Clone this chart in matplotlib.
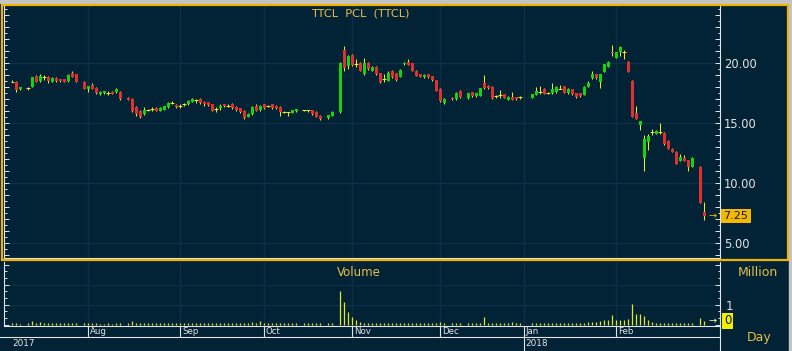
import matplotlib
matplotlib.use("Agg")
import matplotlib.pyplot as plt
import matplotlib.transforms as mtransforms
import numpy as np
import pandas as pd
from matplotlib.patches import Rectangle
from matplotlib.ticker import MultipleLocator, FuncFormatter

# weekday slot (0 = 2017-07-03) of each traded session
day = [2, 3, 4, 6, 7, 8, 9, 10, 11, 12, 13, 14, 15, 16, 17, 18, 20,
       21, 22, 23, 24, 25, 26, 27, 28, 29, 31, 32, 33, 34, 35, 36, 37, 38, 39, 40, 41, 42, 43,
       44, 45, 46, 47, 48, 49, 50, 51, 52, 53, 54, 55, 56, 57, 58, 59, 60, 61, 62, 63, 64,
       65, 66, 67, 68, 69, 70, 71, 72, 73, 75, 76, 77, 78, 79, 81, 82, 84, 85, 86,
       87, 88, 89, 90, 91, 92, 93, 94, 95, 96, 97, 98, 99, 100, 101, 102, 103, 104, 105, 106, 107, 108,
       109, 110, 112, 113, 114, 116, 117, 118, 119, 120, 121, 122, 123, 124, 125, 126, 127, 128, 129,
       132, 133, 134, 135, 136, 137, 138, 139, 140, 141, 142, 143, 144, 145, 146, 147, 148, 149, 150, 151, 152,
       153, 154, 155, 156, 157, 158, 159, 160, 161, 162, 163, 164, 165, 166, 167, 168, 169, 170, 171, 172,
       174, 175]

opens = [18.44, 18.44, 17.80, 17.95, 18.03, 18.92, 18.50, 18.80, 18.86, 18.44, 18.72, 18.67, 18.67, 18.50, 19.14, 19.08, 18.44,
         17.83, 18.17, 17.94, 17.40, 17.47, 17.53, 17.61, 17.55, 17.60, 17.11, 17.00, 16.36, 16.00, 15.75, 16.08, 16.14, 16.22, 16.03, 16.08, 16.30, 16.64, 16.50,
         16.44, 16.58, 16.56, 16.78, 16.92, 17.00, 16.78, 16.72, 16.56, 16.17, 16.22, 16.56, 16.45, 16.58, 16.36, 16.22, 16.00, 15.53, 15.75, 16.44, 16.08,
         16.56, 16.42, 16.56, 16.44, 16.36, 15.89, 15.89, 15.86, 16.00, 16.08, 16.08, 16.08, 15.94, 15.61, 15.39, 15.61, 15.89, 21.08, 19.78,
         20.67, 19.89, 20.03, 19.08, 20.03, 19.36, 19.69, 19.14, 18.64, 18.53, 19.36, 19.14, 18.86, 19.90, 20.11, 19.97, 19.36, 19.08, 18.80, 19.08, 18.92, 18.58,
         17.85, 16.64, 17.05, 16.97, 17.70, 17.06, 17.56, 17.25, 17.28, 18.31, 18.08, 18.03, 17.25, 17.33, 17.39, 16.92, 17.19, 17.14, 17.14,
         17.11, 17.33, 17.61, 17.83, 17.53, 17.47, 17.56, 17.83, 18.08, 17.47, 17.81, 17.47, 17.47, 17.33, 18.03, 18.72, 19.06, 18.44, 19.28, 19.69, 20.94,
         20.44, 20.89, 20.94, 20.11, 18.50, 15.80, 14.83, 12.06, 13.44, 14.28, 14.08, 14.22, 14.19, 13.50, 12.86, 12.61, 11.83, 12.11, 11.89, 11.36,
         11.36, 7.60]

highs = [18.60, 18.50, 18.00, 18.00, 18.85, 19.00, 19.08, 19.00, 18.90, 18.80, 18.80, 18.70, 18.70, 19.05, 19.33, 19.10, 18.50,
         18.10, 18.30, 18.00, 17.65, 17.70, 17.67, 17.65, 17.90, 17.65, 17.20, 17.05, 16.40, 16.05, 16.36, 16.17, 16.36, 16.30, 16.30, 16.45, 16.72, 16.83, 16.55,
         16.58, 16.67, 16.90, 17.10, 17.00, 17.05, 16.86, 16.78, 16.60, 16.36, 16.56, 16.60, 16.55, 16.64, 16.40, 16.25, 16.05, 15.80, 16.42, 16.56, 16.50,
         16.60, 16.50, 16.60, 16.50, 16.40, 16.00, 15.95, 16.10, 16.20, 16.11, 16.11, 16.10, 16.00, 15.65, 15.70, 16.00, 20.10, 21.42, 20.70,
         20.72, 20.30, 20.08, 20.40, 20.08, 19.75, 19.75, 19.20, 19.08, 19.33, 19.40, 19.20, 19.50, 20.05, 20.30, 20.00, 19.40, 19.12, 19.05, 19.10, 18.95, 18.60,
         17.90, 17.05, 17.20, 17.60, 17.75, 17.50, 17.60, 17.50, 17.95, 19.00, 18.15, 18.06, 17.30, 17.75, 17.45, 17.25, 17.60, 17.20, 17.25,
         17.42, 18.00, 18.08, 17.90, 17.60, 18.30, 18.06, 18.17, 18.10, 17.88, 17.85, 17.50, 17.50, 18.10, 18.50, 19.33, 19.10, 19.10, 19.95, 20.15, 21.50,
         20.95, 21.40, 21.08, 20.15, 18.55, 16.44, 15.20, 14.00, 14.06, 14.50, 14.38, 14.97, 14.22, 13.55, 12.90, 12.65, 12.40, 12.33, 11.92, 12.20,
         11.40, 8.44]

lows = [18.40, 17.60, 17.75, 17.75, 18.00, 18.40, 18.45, 18.60, 18.30, 18.40, 18.40, 18.45, 18.40, 18.45, 18.80, 18.40, 17.80,
        17.60, 17.80, 17.40, 17.35, 17.45, 17.33, 17.40, 17.50, 16.95, 16.90, 15.95, 15.60, 15.45, 15.70, 16.00, 16.00, 16.00, 16.00, 16.05, 16.25, 16.55, 16.25,
        16.28, 16.45, 16.50, 16.75, 16.70, 16.60, 16.45, 16.45, 16.00, 15.94, 16.10, 16.35, 16.35, 16.20, 16.00, 15.85, 15.35, 15.50, 15.70, 16.00, 16.00,
        16.20, 16.30, 16.20, 16.20, 15.60, 15.80, 15.60, 15.80, 15.95, 16.00, 15.90, 15.70, 15.50, 15.28, 15.36, 15.58, 15.85, 19.33, 19.50,
        19.75, 19.70, 19.30, 19.00, 19.40, 19.30, 19.00, 18.30, 18.45, 18.50, 18.75, 18.50, 18.80, 19.85, 19.80, 19.30, 18.88, 18.80, 18.75, 18.75, 18.50, 17.65,
        16.75, 16.55, 16.90, 16.90, 17.05, 17.00, 17.20, 17.20, 17.25, 17.85, 17.85, 17.00, 17.10, 17.05, 17.05, 16.90, 16.88, 16.92, 17.00,
        17.05, 17.30, 17.39, 17.38, 17.45, 17.42, 17.50, 17.80, 17.50, 17.42, 17.35, 17.10, 17.20, 17.30, 18.00, 18.70, 18.68, 17.94, 19.25, 19.65, 20.60,
        20.40, 20.60, 20.33, 19.25, 15.50, 15.30, 14.40, 11.00, 12.75, 14.00, 14.05, 14.05, 13.20, 12.80, 12.55, 11.58, 11.80, 11.80, 11.03, 11.33,
        8.33, 6.92]

closes = [18.44, 17.75, 18.00, 17.95, 18.80, 18.44, 18.92, 18.80, 18.50, 18.72, 18.53, 18.50, 18.44, 19.00, 18.86, 18.44, 17.83,
          18.08, 17.83, 17.47, 17.60, 17.67, 17.53, 17.42, 17.80, 17.00, 16.92, 16.00, 15.72, 15.53, 16.08, 16.08, 16.14, 16.03, 16.28, 16.42, 16.64, 16.64, 16.30,
          16.44, 16.58, 16.86, 16.97, 16.92, 16.64, 16.56, 16.50, 16.03, 16.17, 16.44, 16.39, 16.45, 16.22, 16.08, 15.90, 15.39, 15.75, 16.36, 16.03, 16.44,
          16.22, 16.42, 16.22, 16.22, 15.94, 15.89, 15.89, 16.08, 16.17, 16.08, 16.08, 15.75, 15.53, 15.33, 15.67, 15.94, 19.97, 19.56, 20.61,
          19.83, 19.89, 19.36, 20.03, 19.47, 19.69, 19.08, 18.39, 18.64, 19.19, 18.80, 18.58, 19.42, 19.97, 19.83, 19.36, 18.92, 18.86, 19.00, 18.80, 18.58, 17.70,
          16.80, 16.97, 16.97, 17.53, 17.14, 17.47, 17.28, 17.47, 17.89, 17.89, 17.89, 17.06, 17.25, 17.33, 17.11, 17.19, 16.92, 16.97, 17.14,
          17.39, 17.67, 17.61, 17.42, 17.53, 17.81, 18.03, 17.83, 17.53, 17.83, 17.39, 17.14, 17.25, 18.03, 18.31, 19.06, 18.72, 19.06, 19.92, 20.11, 20.80,
          20.89, 21.36, 20.94, 19.28, 15.53, 15.33, 15.17, 13.67, 13.92, 14.28, 14.33, 14.22, 13.25, 12.83, 12.58, 11.61, 12.17, 11.83, 11.31, 12.06,
          8.36, 7.25]

volumes = [.06, .08, .05, .06, .16, .08, .14, .08, .07, .07, .06, .06, .06, .08, .07, .07, .10,
           .06, .07, .06, .05, .05, .06, .05, .06, .06, .07, .16, .10, .08, .07, .06, .06, .06, .07, .06, .06, .07, .06,
           .06, .06, .07, .06, .06, .07, .06, .06, .07, .06, .06, .07, .06, .08, .09, .08, .10, .07, .14, .08, .16,
           .08, .06, .06, .06, .07, .06, .06, .06, .06, .06, .06, .06, .06, .06, .06, .07, 1.69, 1.14, .64,
           .39, .24, .15, .10, .08, .07, .07, .07, .07, .07, .07, .06, .06, .06, .06, .07, .06, .06, .06, .06, .06, .07,
           .14, .07, .06, .06, .06, .06, .06, .06, .08, .39, .10, .08, .08, .07, .06, .06, .12, .06, .06,
           .06, .10, .06, .06, .08, .08, .06, .08, .07, .06, .08, .10, .08, .10, .15, .12, .15, .20, .25, .25, .47,
           .25, .22, .22, .30, 1.02, .54, .52, .43, .22, .15, .10, .10, .10, .08, .08, .08, .08, .08, .08, .10,
           .34, .20]

month_labels = ["Aug", "Sep", "Oct", "Nov", "Dec", "Jan", "Feb"]
price_grid = [5, 10, 15, 20]
volume_grid = [1, 2]

BG = "#022236"
GRID = "#0e3047"
WHITE = "#e4e4e4"
GOLD = "#f0b400"
GOLD_TXT = "#e8c048"
GREEN = "#12d412"
RED = "#e03030"
WICK = "#ecec1c"
VOLC = "#e6e628"

W, H = 792, 351
def fx(px):
    return px / W
def fy(py):
    return 1 - py / H

# weekday calendar -> slot of first weekday of each month
cal = pd.bdate_range("2017-07-03", periods=180)
firsts = [i for i in range(1, len(cal)) if cal[i].month != cal[i - 1].month]
month_slots = [s for s in firsts if cal[s].strftime("%b") in month_labels][:len(month_labels)]
year_slot = [s for s in month_slots if cal[s].month == 1][0]

x = np.array(day, dtype=float)
o, h, l, c = (np.array(a) for a in (opens, highs, lows, closes))
v = np.array(volumes)
up = c > o + 0.02
dn = c < o - 0.02
flat = ~(up | dn)

XL = (3.5 - 4.3) / 4
XR = (720 - 4.3) / 4

fig = plt.figure(figsize=(W / 100, H / 100), dpi=100, facecolor=BG)

# price panel
ax = fig.add_axes([fx(3.5), fy(258), (720 - 3.5) / W, (258 - 6) / H], facecolor=BG)
ax.set_xlim(XL, XR)
ax.set_ylim(20 - 195 / 12, 20 + 57 / 12)
for lv in price_grid:
    ax.axhline(lv, color=GRID, lw=1, zorder=0)
for ms in month_slots:
    ax.axvline(ms, color=GRID, lw=1, zorder=0)
ax.vlines(x, l, h, color=WICK, lw=0.75, zorder=2)
ax.bar(x[up], c[up] - o[up], bottom=o[up], width=0.75, color=GREEN, lw=0, zorder=3)
ax.bar(x[dn], o[dn] - c[dn], bottom=c[dn], width=0.75, color=RED, lw=0, zorder=3)
ax.hlines(c[flat], x[flat] - 0.45, x[flat] + 0.45, color=WICK, lw=0.75, zorder=3)

ax.set_xticks([])
ax.yaxis.set_major_locator(MultipleLocator(1))
ax.yaxis.set_minor_locator(MultipleLocator(0.5))
ax.yaxis.set_major_formatter(FuncFormatter(lambda val, p: f"{val:.2f}" if abs(val % 5) < 1e-6 else ""))
ax.tick_params(axis="y", which="both", direction="in", left=True, right=True,
               labelleft=False, labelright=True, colors=WHITE, labelsize=8.3, pad=3)
ax.tick_params(axis="y", which="major", length=3.5, width=0.7)
ax.tick_params(axis="y", which="minor", length=1.8, width=0.7)
ax.spines["top"].set_visible(False)
for s in ("left", "right", "bottom"):
    ax.spines[s].set_color(WHITE)
    ax.spines[s].set_linewidth(0.8)

# last price tag
tr = mtransforms.blended_transform_factory(fig.transFigure, ax.transData)
ax.text(fx(723.5), c[-1], f"{c[-1]:.2f}", transform=tr, ha="left", va="center",
        fontsize=8, color="#0a1a30",
        bbox=dict(boxstyle="square,pad=0.2", fc="#f5b800", ec="none"))
ax.text(fx(713), c[-1], "\u2192", transform=tr, ha="center", va="center",
        fontsize=7, color="#f5b800")

# volume panel
axv = fig.add_axes([fx(3.5), fy(326), (720 - 3.5) / W, 64 / H], facecolor=BG)
axv.set_xlim(XL, XR)
axv.set_ylim(-0.075, 3.125)
for lv in volume_grid:
    axv.axhline(lv, color=GRID, lw=1, zorder=0)
for ms in month_slots:
    axv.axvline(ms, color=GRID, lw=1, zorder=0)
axv.vlines(x, 0, v, color=VOLC, lw=0.9, zorder=2)
axv.set_xticks([])
axv.yaxis.set_major_locator(MultipleLocator(1))
axv.yaxis.set_minor_locator(MultipleLocator(1 / 3))
axv.yaxis.set_major_formatter(FuncFormatter(lambda val, p: "1" if round(val) == 1 and abs(val - 1) < 1e-6 else ""))
axv.tick_params(axis="y", which="both", direction="in", left=True, right=True,
                labelleft=False, labelright=True, colors=WHITE, labelsize=8.5, pad=4)
axv.tick_params(axis="y", which="major", length=3.5, width=0.7)
axv.tick_params(axis="y", which="minor", length=1.8, width=0.7)
axv.spines["top"].set_visible(False)
for s in ("left", "right", "bottom"):
    axv.spines[s].set_color(WHITE)
    axv.spines[s].set_linewidth(0.8)

fig.text(fx(727.5), fy(320.6), "0", ha="center", va="center", fontsize=8.5, color="#0a1a30",
         bbox=dict(boxstyle="square,pad=0.12", fc="#f0f000", ec="none"))
fig.text(fx(713), fy(321), "\u2192", ha="center", va="center", fontsize=7, color="#f0f0b0")

# date strip
axd = fig.add_axes([0, 0, 720 / W, 25 / H])
axd.set_xlim((0 - 4.3) / 4, XR)
axd.set_ylim(0, 25)
axd.axis("off")
axd.axhline(14, color=WHITE, lw=0.8)
axd.plot([1, 1], [0, 1], transform=axd.transAxes, color=WHITE, lw=0.8, clip_on=False)
for ms, lab in zip(month_slots, month_labels):
    axd.vlines(ms, 14, 25, color=WHITE, lw=0.8)
    axd.text(ms + 0.4, 19.3, lab, ha="left", va="center", fontsize=6.2, color=WHITE)
axd.vlines(year_slot, 0, 14, color=WHITE, lw=0.8)
axd.text(x[0] - 0.1, 7.5, str(cal[day[0]].year), ha="left", va="center", fontsize=6.4, color=WHITE)
axd.text(year_slot + 0.2, 7.5, str(cal[year_slot].year), ha="left", va="center", fontsize=6.4, color=WHITE)

# captions
fig.text(fx(360.5), fy(13.3), "TTCL  PCL  (TTCL)", ha="center", va="center", fontsize=8.2, color=GOLD_TXT)
fig.text(fx(359), fy(272.5), "Volume", ha="center", va="center", fontsize=8.5, color=GOLD_TXT)
fig.text(fx(758), fy(272.5), "Million", ha="center", va="center", fontsize=9, color=GOLD_TXT)
fig.text(fx(759), fy(337.5), "Day", ha="center", va="center", fontsize=9, color=GOLD_TXT)

# frame
fig.patches.append(Rectangle((0, fy(3.3)), 1, 3.3 / H, transform=fig.transFigure,
                             color="#c4c4c4", zorder=5))
fig.patches.append(Rectangle((fx(789), 0), 3 / W, 1, transform=fig.transFigure,
                             color="#c4c4c4", zorder=5))
fig.patches.append(Rectangle((fx(2.2), fy(259.8)), (787.7 - 2.2) / W, (259.8 - 4.8) / H,
                             transform=fig.transFigure, fill=False, ec=GOLD, lw=1.6, zorder=6))

fig.savefig("out.png", dpi=100, facecolor=BG)
